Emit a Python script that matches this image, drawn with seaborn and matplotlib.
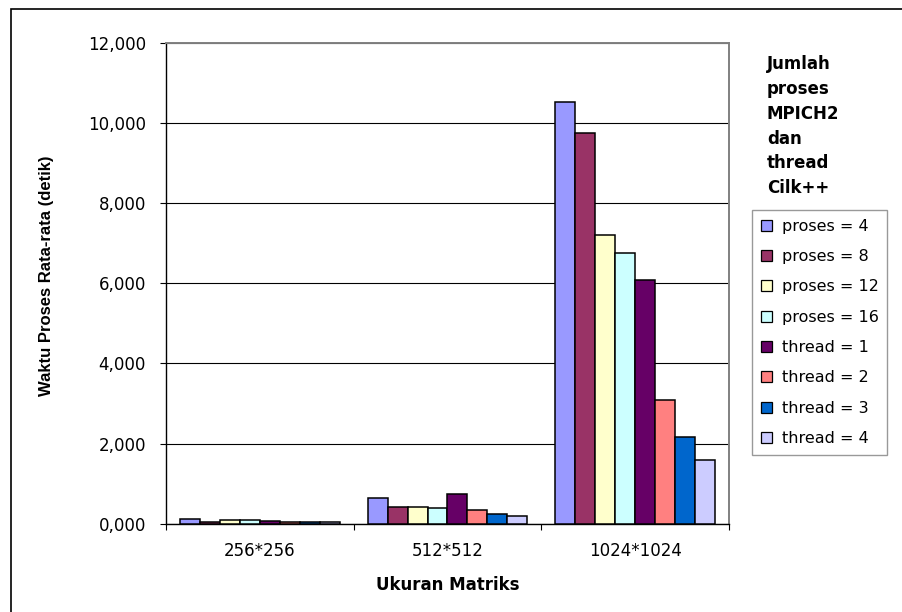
import matplotlib
matplotlib.use("Agg")
import matplotlib.pyplot as plt
import matplotlib.patches as mpatches
from matplotlib.ticker import FixedLocator, FuncFormatter
import seaborn as sns
import pandas as pd

# Matrix sizes on the x axis
categories = ["256*256", "512*512", "1024*1024"]

# Average processing time (seconds) per configuration
series_names = ["proses = 4", "proses = 8", "proses = 12", "proses = 16",
                "thread = 1", "thread = 2", "thread = 3", "thread = 4"]
proses_4 = [0.120, 0.630, 10.520]
proses_8 = [0.045, 0.420, 9.750]
proses_12 = [0.080, 0.425, 7.210]
proses_16 = [0.080, 0.385, 6.760]
thread_1 = [0.075, 0.745, 6.065]
thread_2 = [0.045, 0.350, 3.090]
thread_3 = [0.045, 0.230, 2.160]
thread_4 = [0.045, 0.190, 1.600]
series_values = [proses_4, proses_8, proses_12, proses_16,
                 thread_1, thread_2, thread_3, thread_4]

y_ticks = [0, 2, 4, 6, 8, 10, 12]

colors = ["#9999FF", "#993366", "#FFFFCC", "#CCFFFF",
          "#660066", "#FF8080", "#0066CC", "#CCCCFF"]

rows = []
for name, vals in zip(series_names, series_values):
    for cat, v in zip(categories, vals):
        rows.append({"Ukuran": cat, "Seri": name, "Waktu": v})
df = pd.DataFrame(rows)

sns.set_style("white")
plt.rcParams["font.family"] = ["DejaVu Sans"]
plt.rcParams["text.color"] = "black"
plt.rcParams["axes.labelcolor"] = "black"
plt.rcParams["xtick.color"] = "black"
plt.rcParams["ytick.color"] = "black"

W, H = 902, 612
fig = plt.figure(figsize=(W / 100, H / 100), dpi=100)
ax = fig.add_axes([166 / W, (H - 523.7) / H, (729 - 166) / W, (523.7 - 42.5) / H])

sns.barplot(data=df, x="Ukuran", y="Waktu", hue="Seri",
            order=categories, hue_order=series_names, palette=colors,
            width=0.85, saturation=1, edgecolor="black", linewidth=1.1,
            errorbar=None, legend=False, ax=ax, zorder=3)

ax.set_xlim(-0.5, 2.5)
ax.set_ylim(0, 12)

# horizontal gridlines
ax.yaxis.set_major_locator(FixedLocator(y_ticks))
ax.yaxis.set_major_formatter(FuncFormatter(lambda v, p: f"{v:.3f}".replace(".", ",")))
ax.grid(axis="y", color="black", linewidth=0.8, zorder=0)
ax.set_axisbelow(True)

# category boundary tick marks
ax.set_xticks([-0.5, 0.5, 1.5, 2.5], minor=True)
ax.tick_params(axis="x", which="major", length=0, pad=13, labelsize=12)
ax.tick_params(axis="x", which="minor", length=4.5, width=0.8, color="black",
               direction="out", bottom=True)
ax.tick_params(axis="y", which="major", length=4.5, width=0.8, color="black",
               direction="out", left=True, pad=10, labelsize=12)

for side in ("left", "bottom"):
    ax.spines[side].set_color("black")
    ax.spines[side].set_linewidth(1.0)
for side in ("top", "right"):
    ax.spines[side].set_visible(True)
    ax.spines[side].set_color("#808080")
    ax.spines[side].set_linewidth(1.4)

ax.set_xlabel("Ukuran Matriks", fontsize=12, fontweight="bold", labelpad=12)
ax.set_ylabel("")
fig.text(47 / W, 1 - 276 / H, "Waktu Proses Rata-rata (detik)",
         rotation=90, ha="center", va="center", fontsize=12,
         fontweight="bold", family=["Liberation Sans", "DejaVu Sans"])

# legend
handles = [mpatches.Patch(facecolor=c, edgecolor="black", linewidth=0.9, label=n)
           for c, n in zip(colors, series_names)]
leg = ax.legend(handles=handles, loc="upper left",
                bbox_to_anchor=(752 / W, 1 - 210 / H),
                bbox_transform=fig.transFigure,
                fontsize=11.5, frameon=True, fancybox=False, shadow=False,
                borderpad=0.55, labelspacing=0.96, handlelength=0.7,
                handleheight=0.7, handletextpad=0.6, borderaxespad=0)
leg.get_frame().set_edgecolor("#808080")
leg.get_frame().set_linewidth(1.0)

fig.text(767 / W, 1 - 55 / H, "Jumlah\nproses\nMPICH2\ndan\nthread\nCilk++",
         ha="left", va="top", fontsize=12, fontweight="bold", linespacing=1.49)

# outer chart border
fig.add_artist(mpatches.Rectangle((10.5 / W, -0.05), 1.0, (H - 8.5) / H + 0.05,
                                  transform=fig.transFigure, fill=False,
                                  edgecolor="black", linewidth=1.2, clip_on=False))

fig.savefig("out.png", dpi=100)
